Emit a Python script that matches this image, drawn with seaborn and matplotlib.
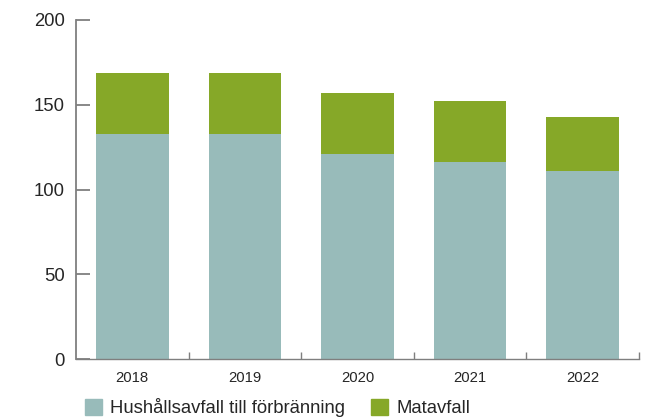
import matplotlib
matplotlib.use("Agg")
import matplotlib.pyplot as plt
import matplotlib.patches as mpatches
import seaborn as sns
import pandas as pd

# Data
years = ["2018", "2019", "2020", "2021", "2022"]
hushall = [133, 133, 121, 116, 111]
matavfall = [36, 36, 36, 36, 32]

blue = "#98BBBA"
green = "#86A828"
axis_grey = "#7f7f7f"

sns.set_style("white")
plt.rcParams["font.family"] = ["Liberation Sans", "DejaVu Sans"]

df = pd.DataFrame({"year": years, "hushall": hushall, "matavfall": matavfall})
df["total"] = df["hushall"] + df["matavfall"]

fig = plt.figure(figsize=(6.55, 4.2), dpi=100)
ax = fig.add_axes([76 / 655, 1 - 359 / 420, (639 - 76) / 655, (359 - 20) / 420])

# stacked bars: total first (green), then the bottom part on top (blue)
sns.barplot(data=df, x="year", y="total", color=green, saturation=1,
            width=0.646, ax=ax, linewidth=0)
sns.barplot(data=df, x="year", y="hushall", color=blue, saturation=1,
            width=0.646, ax=ax, linewidth=0)

ax.set_xlim(-0.5, 4.5)
ax.set_ylim(0, 200)
ax.set_yticks([0, 50, 100, 150, 200])
ax.set_xlabel("")
ax.set_ylabel("")

for side in ["top", "right"]:
    ax.spines[side].set_visible(False)
ax.spines["left"].set_color(axis_grey)
ax.spines["left"].set_linewidth(1.3)
ax.spines["bottom"].set_color(axis_grey)
ax.spines["bottom"].set_linewidth(1.0)

ax.tick_params(axis="y", direction="in", length=10, width=1.3, color=axis_grey,
               labelsize=13.3, pad=8, left=True)
ax.tick_params(axis="x", which="major", length=0, labelsize=10.7, pad=9)
ax.set_xticks([0.5, 1.5, 2.5, 3.5, 4.5], minor=True)
ax.tick_params(axis="x", which="minor", direction="in", length=5, width=1.0,
               color=axis_grey, bottom=True)

handles = [mpatches.Patch(color=blue, label="Hushållsavfall till förbränning"),
           mpatches.Patch(color=green, label="Matavfall")]
fig.legend(handles=handles, loc="center left", bbox_to_anchor=(0.1048, 0.0286),
           ncol=2, frameon=False, fontsize=13.3, handlelength=0.92,
           handleheight=0.92, handletextpad=0.43, columnspacing=1.4)

plt.savefig("out.png", dpi=100)
plt.close()
